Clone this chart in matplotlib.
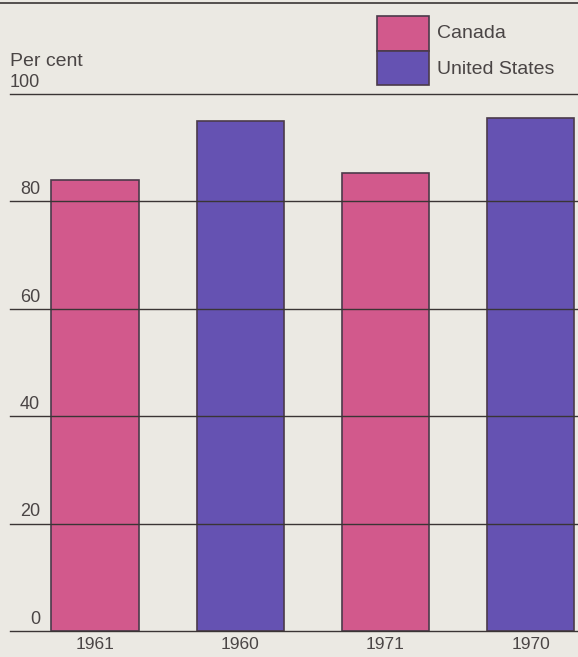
import matplotlib
matplotlib.use("Agg")
import matplotlib.pyplot as plt
import matplotlib.transforms as mtransforms
from matplotlib.patches import Rectangle

# data
years = ["1961", "1960", "1971", "1970"]
countries = ["Canada", "United States", "Canada", "United States"]
values = [84, 95, 85.3, 95.6]
ticks = [0, 20, 40, 60, 80, 100]

colors = {"Canada": "#D2598C", "United States": "#6552B2"}
bg = "#EBE9E3"
ink = "#4A4545"

plt.rcParams['font.family'] = ['Liberation Sans', 'DejaVu Sans']

fig = plt.figure(figsize=(5.78, 6.57), dpi=100, facecolor=bg)
ax = fig.add_axes([10 / 578, 26 / 657, 568 / 578, (631 - 94) / 657])
ax.set_facecolor(bg)

x = list(range(len(years)))
bar_colors = [colors[c] for c in countries]
ax.bar(x, values, width=0.6, color=bar_colors, edgecolor="#4B3A4A",
       linewidth=1.2, zorder=2)

ax.set_xlim(-0.585, 3.326)
ax.set_ylim(0, 100)

# gridlines drawn across the bars
for t in ticks:
    ax.axhline(t, color="#3A3535", linewidth=1.0, zorder=3, clip_on=False)

# tick labels just above each line
trans = mtransforms.blended_transform_factory(ax.transAxes, ax.transData)
for t in ticks:
    ax.text(0.053, t + 0.6, str(t), transform=trans, ha="right", va="bottom",
            fontsize=13, color=ink)
ax.text(0.0, 1.044, "Per cent", transform=ax.transAxes, ha="left", va="bottom",
        fontsize=14, color=ink)

ax.set_xticks(x)
ax.set_xticklabels(years, fontsize=12.5, color=ink)
ax.tick_params(axis="x", length=0, pad=4)
ax.set_yticks([])
for s in ax.spines.values():
    s.set_visible(False)

# top rule
fig.add_artist(plt.Line2D([0, 1], [1 - 3 / 657, 1 - 3 / 657], color="#3A3535", linewidth=1.2))

# legend as stacked swatches
lx, lw = 377 / 578, 52 / 578
fig.add_artist(Rectangle((lx, 1 - 51 / 657), lw, 35 / 657, transform=fig.transFigure,
                         facecolor=colors["Canada"], edgecolor="#4B3A4A", linewidth=1.2))
fig.add_artist(Rectangle((lx, 1 - 85 / 657), lw, 34 / 657, transform=fig.transFigure,
                         facecolor=colors["United States"], edgecolor="#4B3A4A", linewidth=1.2))
fig.text(437 / 578, 1 - 34 / 657, "Canada", ha="left", va="center", fontsize=14, color=ink)
fig.text(437 / 578, 1 - 70 / 657, "United States", ha="left", va="center", fontsize=14, color=ink)

fig.savefig("out.png", dpi=100, facecolor=bg)
